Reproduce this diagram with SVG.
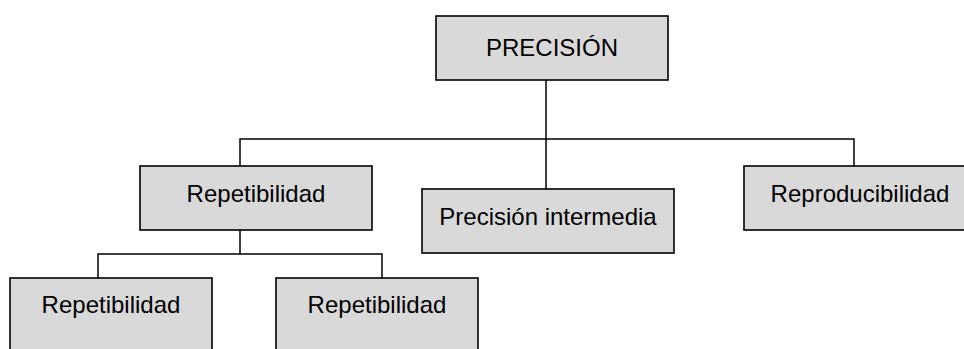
<svg xmlns="http://www.w3.org/2000/svg" width="964" height="349" viewBox="0 0 964 349">
<style>
.box{fill:#d9d9d9;stroke:#000;stroke-width:1.6}
.lbl{font-family:"Liberation Sans",Arial,sans-serif;font-size:24px;fill:#000;text-anchor:middle}
.conn{fill:none;stroke:#000;stroke-width:1.5}
</style>
<rect width="964" height="349" fill="#fff"/>
<g id="connectors">
<path class="conn" d="M546,80 V139 M240,166 V139 H854 V166 M546,139 V189"/>
<path class="conn" d="M240,230 V254 M98,278 V254 H382 V278"/>
</g>
<g id="precision"><rect class="box" x="436" y="16" width="232" height="64"/><text class="lbl" x="552" y="56">PRECISIÓN</text></g>
<g id="repetibilidad"><rect class="box" x="140" y="166" width="232" height="64"/><text class="lbl" x="256" y="202">Repetibilidad</text></g>
<g id="intermedia"><rect class="box" x="422" y="189" width="252" height="64"/><text class="lbl" x="548" y="225">Precisión intermedia</text></g>
<g id="reproducibilidad"><rect class="box" x="744" y="166" width="234" height="64"/><text class="lbl" x="860" y="202">Reproducibilidad</text></g>
<g id="repetibilidad1"><rect class="box" x="10" y="278" width="202" height="80"/><text class="lbl" x="111" y="313">Repetibilidad</text></g>
<g id="repetibilidad2"><rect class="box" x="276" y="278" width="202" height="80"/><text class="lbl" x="377" y="313">Repetibilidad</text></g>
</svg>
